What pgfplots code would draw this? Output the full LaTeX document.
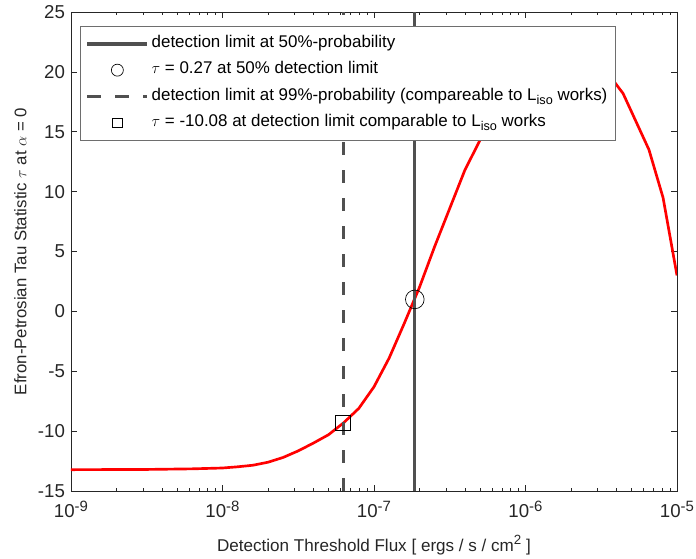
\documentclass[border=0pt]{standalone}
\usepackage{fontspec}
\setmainfont{Liberation Sans}
\usepackage{pgfplots}
\pgfplotsset{compat=1.18}
\definecolor{vline}{RGB}{80,80,80}
\definecolor{axgray}{RGB}{38,38,38}
\definecolor{legbox}{RGB}{110,110,110}
\newcommand{\mysub}[1]{\raisebox{-0.5ex}{\fontsize{9.5}{10}\selectfont #1}}
\newcommand{\mysup}[1]{\raisebox{0.75ex}{\fontsize{10}{10}\selectfont #1}}
\newcommand{\tsup}[1]{\raisebox{0.6ex}{\fontsize{11.2}{11}\selectfont #1}}
\begin{document}
\fontsize{13}{15}\selectfont
\begin{tikzpicture}
\begin{axis}[
  scale only axis, width=454.5pt, height=359.25pt,
  xmode=log, xmin=1e-9, xmax=1e-5, ymin=-15, ymax=25,
  xtick={1e-9,1e-8,1e-7,1e-6,1e-5},
  minor xtick={2e-9,3e-9,4e-9,5e-9,6e-9,7e-9,8e-9,9e-9,
               2e-8,3e-8,4e-8,5e-8,6e-8,7e-8,8e-8,9e-8,
               2e-7,3e-7,4e-7,5e-7,6e-7,7e-7,8e-7,9e-7,
               2e-6,3e-6,4e-6,5e-6,6e-6,7e-6,8e-6,9e-6},
  xticklabels={10\tsup{-9},10\tsup{-8},10\tsup{-7},10\tsup{-6},10\tsup{-5}},
  ytick={-15,-10,-5,0,5,10,15,20,25},
  yticklabels={-15,-10,-5,0,5,10,15,20,25},
  tick align=inside,
  major tick length=4.7pt, minor tick length=2.5pt,
  axis line style={axgray, line width=0.5pt},
  every tick/.style={axgray, line width=0.5pt},
  every minor tick/.style={axgray, line width=0.5pt},
  tick label style={font=\fontsize{14}{16}\selectfont, text=axgray},
  xticklabel style={yshift=-3pt},
  xlabel={Detection Threshold Flux [ ergs / s / cm\mysup{2} ]},
  ylabel={Efron-Petrosian Tau Statistic $\tau$ at $\alpha$ = 0},
  every axis x label/.style={at={(axis description cs:0.5,-0.113)}, anchor=center, font=\fontsize{12.8}{15}\selectfont, text=axgray},
  every axis y label/.style={at={(axis description cs:-0.0836,0.5)}, rotate=90, anchor=center, font=\fontsize{12.6}{15}\selectfont, text=axgray},
  legend image code/.code={\draw[mark repeat=2,mark phase=2,#1] plot coordinates {(0cm,0cm) (0.79cm,0cm) (1.58cm,0cm)};},
  legend cell align=left,
  legend style={at={(0.015,0.971)}, anchor=north west, draw=legbox, line width=0.5pt,
    font=\fontsize{12.7}{15}\selectfont, row sep=3.2pt, inner xsep=4pt, inner ysep=5pt,
    nodes={text height=9.5pt, text depth=4pt, inner ysep=1.5pt}},
]
\coordinate (SW) at (rel axis cs:0,0);
\coordinate (NE) at (rel axis cs:1,1);
\addplot[red, line width=2pt, forget plot] coordinates {
(1e-9,-13.22) (3.162e-9,-13.2) (6.310e-9,-13.15) (1e-8,-13.08) (1.259e-8,-12.98)
(1.585e-8,-12.85) (1.995e-8,-12.6) (2.512e-8,-12.2) (3.162e-8,-11.65) (3.981e-8,-11.0)
(5.012e-8,-10.3) (6.310e-8,-9.3) (7.943e-8,-8.1) (1e-7,-6.3) (1.259e-7,-3.9)
(1.585e-7,-1.0) (1.995e-7,2.0) (2.512e-7,5.4) (3.162e-7,8.6) (3.981e-7,11.8)
(5.012e-7,14.3) (6.310e-7,16.3) (1e-6,19.0) (1.585e-6,20.2) (2.512e-6,20.5)
(3.631e-6,19.6) (4.406e-6,18.2) (6.531e-6,13.5) (8.091e-6,9.5) (1e-5,3.0)
};
\addplot[vline, line width=2.5pt] coordinates {(1.86e-7,-15) (1.86e-7,25)};
\addlegendentry{detection limit at 50\%-probability}
\addplot[only marks, mark=o, mark size=7pt, black, line width=0.5pt, legend image post style={mark size=4.5pt}] coordinates {(1.86e-7,1.0)};
\addlegendentry{$\tau$ = 0.27 at 50\% detection limit}
\addplot[vline, line width=2.5pt, dash pattern=on 10pt off 11pt] coordinates {(6.27e-8,-15) (6.27e-8,25)};
\addlegendentry{detection limit at 99\%-probability (compareable to L\mysub{iso} works)}
\addplot[only marks, mark=square, mark size=5.6pt, black, line width=0.5pt, legend image post style={mark size=3.5pt}] coordinates {(6.27e-8,-9.3)};
\addlegendentry{$\tau$ = -10.08 at detection limit comparable to L\mysub{iso} works}
\end{axis}
\pgfresetboundingbox
\path[use as bounding box] ([shift={(-53.25pt,-51pt)}]SW) rectangle ([shift={(14.25pt,9pt)}]NE);
\end{tikzpicture}
\end{document}
